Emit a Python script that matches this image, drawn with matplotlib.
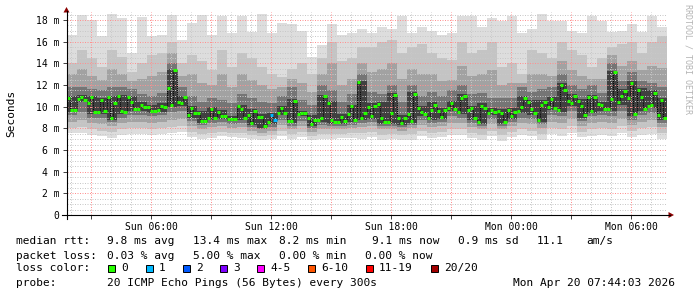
import matplotlib
matplotlib.use("Agg")
import matplotlib.pyplot as plt
from matplotlib.lines import Line2D
from matplotlib.patches import Polygon, Rectangle
import numpy as np

W, H = 697, 297
MONO = "DejaVu Sans Mono"

# median rtt (ms), one value per 10 minutes, starting Sun 01:46
median_ms = [
    10.8, 9.7, 9.7, 10.7, 10.9, 10.6, 10.3, 10.9, 9.5, 9.5,
    10.6, 9.6, 10.9, 9.0, 10.3, 11.0, 9.6, 9.5, 10.9, 10.4,
    9.8, 9.8, 10.2, 10.0, 10.0, 9.6, 9.6, 9.7, 10.1, 10.0,
    11.7, 10.2, 13.4, 10.4, 10.3, 10.9, 9.2, 9.9, 9.4, 9.4,
    8.7, 8.7, 9.0, 9.8, 9.0, 9.5, 9.1, 9.1, 8.9, 8.85,
    8.85, 10.05, 9.8, 9.0, 9.2, 8.5, 9.6, 9.05, 9.05, 8.2,
    8.6, 9.2, 8.8, 9.4, 9.9, 9.4, 8.7, 8.7, 10.5, 9.3,
    9.4, 9.4, 9.0, 8.4, 8.8, 8.8, 9.0, 11.0, 10.3, 8.8,
    8.6, 8.6, 9.05, 8.7, 9.3, 10.06, 8.8, 12.3, 9.0, 9.4,
    10.0, 9.1, 10.1, 10.25, 9.0, 8.6, 8.6, 9.4, 11.1, 9.0,
    8.5, 9.0, 9.3, 8.7, 11.2, 9.9, 9.5, 9.3, 9.0, 9.7,
    10.2, 9.6, 9.05, 9.7, 9.9, 10.3, 9.8, 9.5, 10.8, 11.0,
    9.7, 9.9, 9.0, 8.6, 10.1, 9.9, 9.4, 9.7, 9.5, 9.6,
    9.4, 8.6, 9.7, 9.1, 9.5, 9.6, 10.0, 10.8, 10.4, 9.8,
    9.4, 8.8, 10.2, 10.4, 10.0, 10.7, 9.9, 9.7, 12.0, 11.5,
    10.5, 10.3, 11.0, 10.5, 10.1, 9.2, 10.9, 9.6, 10.9, 10.25,
    10.2, 9.8, 9.8, 10.7, 13.2, 10.4, 11.0, 11.45, 10.8, 12.2,
    9.3, 11.5, 10.9, 9.8, 10.1, 10.2, 11.3, 9.2, 10.6, 9.0,
]
# steps where 1 of 20 pings was lost
loss1_steps = [61, 62]

# smoke (ms), one value per 30 minutes: outer to inner bands
smoke_max = [16.6, 18.5, 18.0, 16.5, 18.6, 18.2, 15.0, 18.3, 16.5, 16.6,
             18.5, 16.2, 17.7, 18.5, 16.6, 18.4, 16.8, 18.4, 16.9, 18.6,
             16.8, 17.7, 17.6, 17.0, 14.6, 15.7, 17.6, 16.6, 16.8, 17.2,
             16.8, 17.4, 17.2, 18.4, 16.8, 17.4, 17.0, 16.6, 16.8, 18.4,
             18.4, 17.4, 18.2, 17.9, 18.4, 16.8, 17.2, 18.6, 17.9, 17.9,
             17.0, 16.8, 18.4, 17.9, 16.9, 17.0, 17.6, 16.9, 18.4, 17.4]
smoke_hi = [14.0, 15.2, 14.5, 13.7, 15.2, 14.6, 13.2, 14.0, 14.8, 15.0,
            16.0, 14.0, 14.8, 14.2, 13.4, 15.2, 13.7, 15.0, 14.5, 13.7,
            13.0, 12.7, 13.5, 14.0, 13.0, 14.5, 16.0, 14.2, 14.5, 15.5,
            15.5, 16.0, 16.2, 15.0, 15.5, 15.8, 15.0, 14.5, 14.3, 16.0,
            15.0, 15.2, 16.0, 13.7, 14.0, 13.0, 15.2, 15.0, 14.5, 16.0,
            15.2, 14.8, 13.7, 14.5, 15.5, 15.8, 16.0, 15.0, 16.0, 16.5]
smoke_mid_hi = [13.0, 13.5, 12.8, 12.5, 13.5, 13.0, 12.4, 12.6, 12.8, 13.2,
                15.0, 12.8, 13.0, 12.2, 12.0, 13.0, 11.8, 13.0, 12.5, 12.0,
                11.6, 11.8, 12.6, 12.2, 11.4, 13.0, 14.0, 12.0, 12.6, 14.0,
                13.2, 13.5, 14.0, 12.6, 13.5, 13.0, 13.0, 12.4, 12.5, 13.8,
                12.8, 13.0, 13.4, 12.0, 12.2, 12.2, 13.0, 13.0, 12.8, 14.2,
                13.4, 12.8, 12.6, 12.6, 14.8, 13.8, 14.2, 13.4, 13.8, 13.6]
smoke_core_hi = [11.8, 11.8, 11.6, 11.5, 11.8, 11.8, 11.6, 11.2, 11.0, 11.3,
                 14.0, 11.8, 11.0, 10.4, 10.8, 10.6, 10.3, 11.2, 10.8, 10.4,
                 10.3, 11.0, 11.8, 10.6, 10.2, 12.0, 11.5, 10.4, 11.2, 13.0,
                 11.4, 11.2, 12.0, 10.4, 12.0, 11.0, 11.4, 11.0, 11.5, 12.0,
                 11.2, 11.3, 10.8, 10.8, 10.8, 11.8, 11.4, 11.6, 11.8, 13.0,
                 12.0, 11.6, 12.0, 11.3, 14.0, 12.4, 13.2, 12.4, 12.2, 11.8]
smoke_inner_hi = [11.0, 11.1, 11.0, 10.8, 11.0, 11.1, 11.0, 10.4, 10.2, 10.3,
                  13.5, 11.0, 10.1, 9.6, 10.0, 9.7, 9.1, 10.2, 9.8, 9.3,
                  9.4, 10.1, 10.7, 9.6, 9.2, 11.1, 10.5, 9.3, 10.2, 12.4,
                  10.3, 10.4, 11.3, 9.2, 11.4, 10.1, 10.4, 9.9, 10.5, 11.2,
                  10.1, 10.3, 9.9, 9.8, 9.9, 11.0, 10.6, 10.6, 10.9, 12.2,
                  11.2, 10.7, 11.1, 10.4, 13.3, 11.6, 12.4, 11.7, 11.5, 10.8]
smoke_inner_lo = [9.5, 10.4, 9.3, 9.3, 8.8, 9.3, 9.6, 9.6, 9.4, 9.5,
                  10.0, 10.1, 9.0, 8.5, 8.8, 8.9, 8.65, 8.8, 8.3, 8.0,
                  8.4, 9.2, 8.5, 9.1, 8.2, 8.6, 8.4, 8.4, 8.6, 8.8,
                  8.9, 8.4, 8.4, 8.3, 8.5, 9.1, 8.8, 8.85, 9.6, 9.3,
                  8.8, 8.4, 9.2, 8.4, 8.9, 9.4, 9.2, 8.6, 9.7, 9.5,
                  10.1, 9.0, 9.4, 9.6, 9.6, 10.2, 9.1, 9.6, 9.9, 8.8]
smoke_core_lo = [9.2, 9.5, 9.0, 9.0, 8.6, 9.0, 9.2, 9.2, 9.1, 9.2,
                 9.5, 9.6, 8.7, 8.3, 8.5, 8.6, 8.4, 8.5, 8.1, 7.9,
                 8.1, 8.8, 8.2, 8.7, 8.0, 8.3, 8.2, 8.2, 8.3, 8.5,
                 8.6, 8.2, 8.2, 8.1, 8.3, 8.8, 8.5, 8.6, 9.1, 9.0,
                 8.5, 8.2, 8.9, 8.2, 8.6, 9.0, 8.9, 8.4, 9.2, 9.1,
                 9.6, 8.7, 9.1, 9.2, 9.1, 9.6, 8.8, 9.2, 9.4, 8.5]
smoke_mid_lo = [8.6, 8.8, 8.5, 8.4, 8.2, 8.5, 8.6, 8.6, 8.5, 8.6,
                8.8, 8.9, 8.2, 7.9, 8.1, 8.2, 8.0, 8.1, 7.8, 7.6,
                7.8, 8.3, 7.9, 8.2, 7.7, 7.9, 7.9, 7.9, 8.0, 8.1,
                8.2, 7.9, 7.9, 7.8, 8.0, 8.3, 8.1, 8.2, 8.5, 8.5,
                8.1, 7.9, 8.4, 7.9, 8.2, 8.5, 8.4, 8.0, 8.6, 8.5,
                8.9, 8.2, 8.5, 8.6, 8.5, 8.9, 8.3, 8.6, 8.8, 8.1]
smoke_lo = [8.0, 8.1, 7.9, 7.8, 7.7, 7.9, 8.0, 8.0, 7.9, 8.0,
            8.1, 8.2, 7.7, 7.5, 7.6, 7.7, 7.6, 7.6, 7.4, 7.3,
            7.4, 7.8, 7.5, 7.7, 7.3, 7.5, 7.5, 7.5, 7.6, 7.6,
            7.7, 7.4, 7.5, 7.4, 7.5, 7.8, 7.6, 7.7, 7.9, 7.9,
            7.6, 7.4, 7.8, 7.4, 7.7, 7.9, 7.8, 7.5, 8.0, 7.9,
            8.2, 7.7, 7.9, 8.0, 7.9, 8.2, 7.8, 8.0, 8.1, 7.6]
smoke_min = [7.6, 7.6, 7.4, 7.3, 7.1, 7.4, 7.5, 7.5, 7.4, 7.5,
             7.6, 7.7, 7.2, 7.0, 7.1, 7.3, 7.2, 7.1, 7.0, 6.9,
             7.0, 7.3, 7.0, 7.2, 6.9, 7.0, 7.0, 7.1, 7.1, 7.0,
             7.2, 6.9, 7.0, 6.9, 6.9, 7.3, 7.1, 7.2, 7.4, 7.4,
             7.1, 6.9, 7.3, 6.8, 7.2, 7.4, 7.3, 6.9, 7.5, 7.3,
             7.6, 7.2, 7.3, 7.4, 7.3, 7.6, 7.2, 7.4, 7.5, 7.0]

t_start = 1.775   # hours after Sun 00:00
t_span = 30.0
tick_hours = [6, 12, 18, 24, 30]
tick_labels = ["Sun 06:00", "Sun 12:00", "Sun 18:00", "Mon 00:00", "Mon 06:00"]
y_ticks = list(range(0, 19, 2))
y_labels = ["0"] + ["%d m" % v for v in y_ticks[1:]]

loss_labels = ["0", "1", "2", "3", "4-5", "6-10", "11-19", "20/20"]
loss_colors = ["#26ff00", "#00b8ff", "#0059ff", "#7e00ff",
               "#ff00ff", "#ff5500", "#ff0000", "#a10000"]

rtt_line = [("median rtt:", 16), ("9.8 ms avg", 107), ("13.4 ms max", 193),
            ("8.2 ms min", 279), ("9.1 ms now", 372), ("0.9 ms sd", 458),
            ("11.1", 537), ("am/s", 586)]
loss_line = [("packet loss:", 16), ("0.03 % avg", 107), ("5.00 % max", 193),
             ("0.00 % min", 279), ("0.00 % now", 365)]
probe_line = [("probe:", 16), ("20 ICMP Echo Pings (56 Bytes) every 300s", 107),
              ("Mon Apr 20 07:44:03 2026", 513)]


def fx(x):
    return x / W


def fy(y):
    return 1 - y / H


fig = plt.figure(figsize=(W / 100, H / 100), dpi=100)
fig.patch.set_facecolor("white")
ax = fig.add_axes([fx(66.5), 82 / H, 600 / W, 203 / H])
ymax = 203 / 10.83
ax.set_xlim(t_start, t_start + t_span)
ax.set_ylim(0, ymax)
for s in ax.spines.values():
    s.set_visible(False)

# smoke
n_s = len(smoke_max)
s_edges = t_start + np.arange(n_s + 1) * 0.5
bands = [(smoke_min, smoke_max, "#dddddd"),
         (smoke_lo, smoke_hi, "#c4c4c4"),
         (smoke_mid_lo, smoke_mid_hi, "#a2a2a2"),
         (smoke_core_lo, smoke_core_hi, "#757575"),
         (smoke_inner_lo, smoke_inner_hi, "#404040")]
for lo, hi, col in bands:
    ax.stairs(np.array(hi), s_edges, baseline=np.array(lo), fill=True,
              color=col, lw=0, zorder=1)

# grid (dotted, drawn over the smoke like rrdtool does)
for v in np.arange(0.5, ymax, 0.5):
    major = abs(v / 2 - round(v / 2)) < 1e-6
    ax.axhline(v, color="#ff9090" if major else "#c8c8c8", lw=0.72,
               dashes=(1, 1.5), zorder=2)
for h in np.arange(2, 32, 1.0):
    if h <= t_start:
        continue
    major = int(h) % 3 == 0
    ax.axvline(h, color="#ff9090" if major else "#c8c8c8", lw=0.72,
               dashes=(1, 1.5), zorder=2)

# median line
med = np.array(median_ms)
m_edges = t_start + np.arange(len(med) + 1) / 6.0
ax.vlines(m_edges[1:-1], med[:-1], med[1:], color="black", lw=0.7,
          linestyles=(0, (1, 1)), zorder=3)
cols = [loss_colors[1] if i in loss1_steps else loss_colors[0] for i in range(len(med))]
ax.hlines(med, m_edges[:-1], m_edges[1:], colors=cols, lw=2.2, zorder=4)

# ticks
maj3 = [h for h in range(3, 32, 3)]
ax.set_xticks(maj3)
ax.set_xticklabels([tick_labels[tick_hours.index(h)] if h in tick_hours else "" for h in maj3],
                   fontfamily=MONO, fontsize=7)
ax.set_yticks(y_ticks)
ax.set_yticklabels(y_labels, fontfamily=MONO, fontsize=7)
ax.tick_params(direction="out", length=3, width=0.7, color="#404040", pad=2.2)

# axis lines and arrows
fig.add_artist(Line2D([fx(62), fx(670)], [fy(215), fy(215)], color="black", lw=0.8))
fig.add_artist(Line2D([fx(66.5), fx(66.5)], [fy(219), fy(11)], color="black", lw=0.8))
fig.add_artist(Polygon([(fx(63.5), fy(12.5)), (fx(69.5), fy(12.5)), (fx(66.5), fy(7))],
                       closed=True, color="#8b0000", lw=0))
fig.add_artist(Polygon([(fx(668.5), fy(212)), (fx(668.5), fy(218)), (fx(674), fy(215))],
                       closed=True, color="#8b0000", lw=0))

fig.text(fx(11), fy(113), "Seconds", rotation=90, ha="center", va="center",
         fontfamily=MONO, fontsize=8)
fig.text(fx(688), fy(4), "RRDTOOL / TOBI OETIKER", rotation=270, ha="center", va="top",
         fontfamily=MONO, fontsize=6, color="#b4b4b4")

# legend
for line, y in [(rtt_line, 241), (loss_line, 255.7), (probe_line, 283.3)]:
    for txt, x in line:
        fig.text(fx(x), fy(y), txt, ha="left", va="center", fontfamily=MONO, fontsize=8)
fig.text(fx(16), fy(268.3), "loss color:", ha="left", va="center", fontfamily=MONO, fontsize=8)
sq_x = [108, 146, 183, 220, 257, 308, 366, 431]
for x, lab, col in zip(sq_x, loss_labels, loss_colors):
    fig.add_artist(Rectangle((fx(x), fy(272)), 7 / W, 7 / H, facecolor=col,
                             edgecolor="black", lw=0.7))
    fig.text(fx(x + 13), fy(268.3), lab, ha="left", va="center", fontfamily=MONO, fontsize=8)

fig.savefig("out.png", dpi=100)
